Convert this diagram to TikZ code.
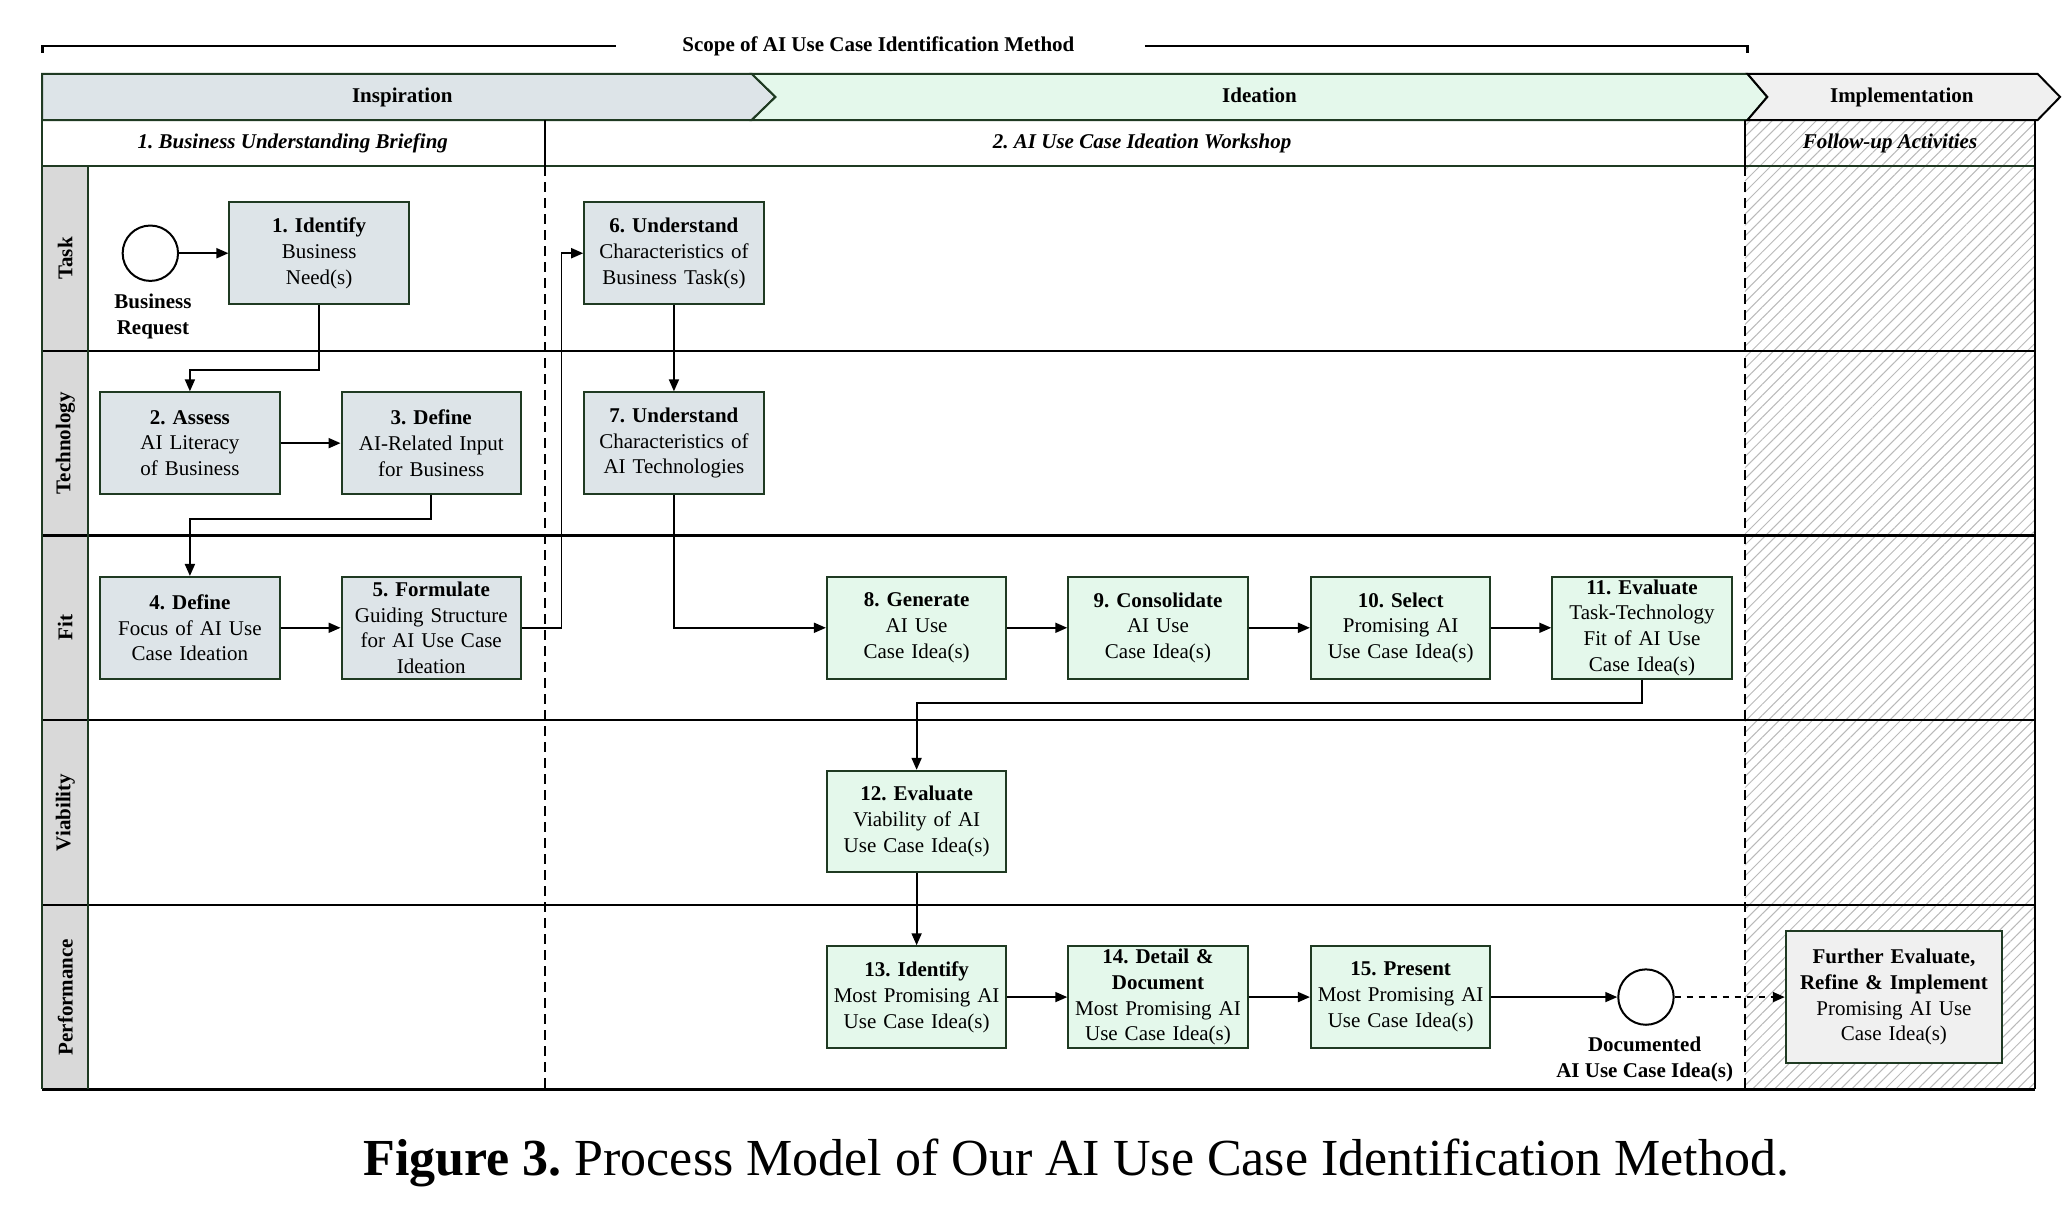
\documentclass[tikz,border=0pt]{standalone}
\usepackage{fontspec}
\setmainfont{Liberation Serif}
\frenchspacing
\usetikzlibrary{arrows.meta,patterns.meta}
\definecolor{laneframe}{HTML}{1F3A22}
\definecolor{inspfill}{HTML}{DDE4E8}
\definecolor{ideafill}{HTML}{E4F8EB}
\definecolor{implfill}{HTML}{F0F0F0}
\definecolor{lanegray}{HTML}{D9D9D9}
\begin{document}
\begin{tikzpicture}[x=0.6594pt,y=-0.6594pt]

	\tikzset{
	  procbox/.style={
		draw=laneframe,
		line width=1pt,
		minimum width=89.7pt,
		minimum height=50.8pt,
		inner sep=0.5pt,
		text width=88pt,
		align=center,
		font=\fontsize{10.5}{12.9}\selectfont,
	  },
	  inspbox/.style={procbox, fill=inspfill},
	  ideabox/.style={procbox, fill=ideafill},
	  implbox/.style={procbox, fill=implfill, minimum width=108.1pt, minimum height=65.9pt, text width=104pt},
	  event/.style={draw, circle, line width=1pt, minimum size=27.7pt, inner sep=0pt, fill=white},
	  evlabel/.style={align=center, font=\fontsize{10.5}{12.9}\selectfont\bfseries},
	  lanelabel/.style={rotate=90, font=\fontsize{10.5}{12.9}\selectfont\bfseries},
	  headlabel/.style={text height=1.6ex, text depth=0.4ex, font=\fontsize{10.5}{12.9}\selectfont\bfseries},
	  sublabel/.style={text height=1.6ex, text depth=0.4ex, font=\fontsize{10.5}{12.9}\selectfont\bfseries\itshape},
	  flow/.style={line width=0.9pt, -{Triangle[length=6pt,width=5pt]}},
	  laneline/.style={line width=1.1pt},
	}
	\useasboundingbox (0,0) rectangle (1568,925);

	% scope bracket
	\draw[line width=1.3pt] (32,40) -- (32,35) -- (467,35);
	\draw[line width=1.3pt] (868,35) -- (1325,35) -- (1325,40);
	\node[headlabel] (scope) at (666,35) {Scope of AI Use Case Identification Method};

	% hatched follow-up area
	\fill[pattern={Lines[angle=45,distance=3.9pt,line width=0.5pt]}, pattern color=gray!55] (1323,91) rectangle (1543,826);
	\fill[lanegray] (32,126) rectangle (67,826);

	% phases
	\draw[laneframe, line width=1pt, fill=inspfill] (32,56) -- (570,56) -- (588,73.5) -- (570,91) -- (32,91) -- cycle;
	\draw[laneframe, line width=1pt, fill=ideafill] (570,56) -- (1325,56) -- (1340,73.5) -- (1325,91) -- (570,91) -- (588,73.5) -- cycle;
	\draw[black, line width=1pt, fill=implfill] (1325,56) -- (1545,56) -- (1562,73.5) -- (1545,91) -- (1325,91) -- (1340,73.5) -- cycle;
	\node[headlabel] (insp) at (305,73.5) {Inspiration};
	\node[headlabel] (idea) at (955,73.5) {Ideation};
	\node[headlabel] (impl) at (1442,73.5) {Implementation};

	% sub-phases
	\node[sublabel] (brief) at (222,108.5) {1. Business Understanding Briefing};
	\node[sublabel] (workshop) at (866,108.5) {2. AI Use Case Ideation Workshop};
	\node[sublabel] (follow) at (1433,108.5) {Follow-up Activities};

	% lanes
	\draw[laneline, laneframe] (32,126) -- (1543,126);
	\draw[laneline] (32,266) -- (1543,266);
	\draw[laneline] (32,406) -- (1543,406);
	\draw[laneline] (32,546) -- (1543,546);
	\draw[laneline] (32,686) -- (1543,686);
	\draw[laneline] (32,826) -- (1543,826);
	\draw[laneline, laneframe] (32,91) -- (32,826);
	\draw[laneline, laneframe] (67,126) -- (67,826);
	\draw[laneline] (1543,91) -- (1543,826);
	\draw[line width=0.9pt] (413,91) -- (413,126);
	\draw[line width=0.9pt] (1323,91) -- (1323,126);
	\draw[line width=0.9pt, dash pattern=on 5pt off 3pt] (413,126) -- (413,826);
	\draw[line width=0.9pt, dash pattern=on 5pt off 3pt] (1323,126) -- (1323,826);
	\node[lanelabel] (task) at (49.5,196) {Task};
	\node[lanelabel] (tech) at (49.5,336) {Technology};
	\node[lanelabel] (fit) at (49.5,476) {Fit};
	\node[lanelabel] (viab) at (49.5,616) {Viability};
	\node[lanelabel] (perf) at (49.5,756) {Performance};

	% inspiration steps
	\node[event] (request) at (114,192) {};
	\node[evlabel] (requestlabel) at (116,240) {Business\\Request};
	\node[inspbox] (s1) at (242,192) {\textbf{1. Identify}\\Business\\Need(s)};
	\node[inspbox] (s2) at (144,336) {\textbf{2. Assess}\\AI Literacy\\of Business};
	\node[inspbox] (s3) at (327,336) {\textbf{3. Define}\\AI-Related Input\\for Business};
	\node[inspbox] (s4) at (144,476) {\textbf{4. Define}\\Focus of AI Use\\Case Ideation};
	\node[inspbox] (s5) at (327,476) {\textbf{5. Formulate}\\Guiding Structure\\for AI Use Case\\Ideation};
	\node[inspbox] (s6) at (511,192) {\textbf{6. Understand}\\Characteristics of\\Business Task(s)};
	\node[inspbox] (s7) at (511,336) {\textbf{7. Understand}\\Characteristics of\\AI Technologies};

	% ideation steps
	\node[ideabox] (s8) at (695,476) {\textbf{8. Generate}\\AI Use\\Case Idea(s)};
	\node[ideabox] (s9) at (878,476) {\textbf{9. Consolidate}\\AI Use\\Case Idea(s)};
	\node[ideabox] (s10) at (1062,476) {\textbf{10. Select}\\Promising AI\\Use Case Idea(s)};
	\node[ideabox] (s11) at (1245,476) {\textbf{11. Evaluate}\\Task-Technology\\Fit of AI Use\\Case Idea(s)};
	\node[ideabox] (s12) at (695,623) {\textbf{12. Evaluate}\\Viability of AI\\Use Case Idea(s)};
	\node[ideabox] (s13) at (695,756) {\textbf{13. Identify}\\Most Promising AI\\Use Case Idea(s)};
	\node[ideabox] (s14) at (878,756) {\textbf{14. Detail \&}\\\textbf{Document}\\Most Promising AI\\Use Case Idea(s)};
	\node[ideabox] (s15) at (1062,756) {\textbf{15. Present}\\Most Promising AI\\Use Case Idea(s)};
	\node[event] (documented) at (1248,756) {};
	\node[evlabel] (documentedlabel) at (1247,803) {Documented\\AI Use Case Idea(s)};
	\node[implbox] (further) at (1436,756) {\textbf{Further Evaluate,}\\\textbf{Refine \& Implement}\\Promising AI Use\\Case Idea(s)};

	% connectors
	\draw[flow] (request) -- (s1);
	\draw[flow] (s1.south) -- ++(0,49) -| (s2.north);
	\draw[flow] (s2) -- (s3);
	\draw[flow] (s3.south) -- ++(0,18) -| (s4.north);
	\draw[flow] (s4) -- (s5);
	\draw[flow] (s5.east) -- ++(30,0) |- (s6.west);
	\draw[flow] (s6) -- (s7);
	\draw[flow] (s7.south) |- (s8.west);
	\draw[flow] (s8) -- (s9);
	\draw[flow] (s9) -- (s10);
	\draw[flow] (s10) -- (s11);
	\draw[flow] (s11.south) -- ++(0,18) -| (s12.north);
	\draw[flow] (s12) -- (s13);
	\draw[flow] (s13) -- (s14);
	\draw[flow] (s14) -- (s15);
	\draw[flow] (s15) -- (documented);
	\draw[flow, dashed] (documented) -- (further);

	% caption
	\node[font=\fontsize{26}{30}\selectfont] (caption) at (816,882) {\textbf{Figure 3.} Process Model of Our AI Use Case Identification Method.};

\end{tikzpicture}
\end{document}
